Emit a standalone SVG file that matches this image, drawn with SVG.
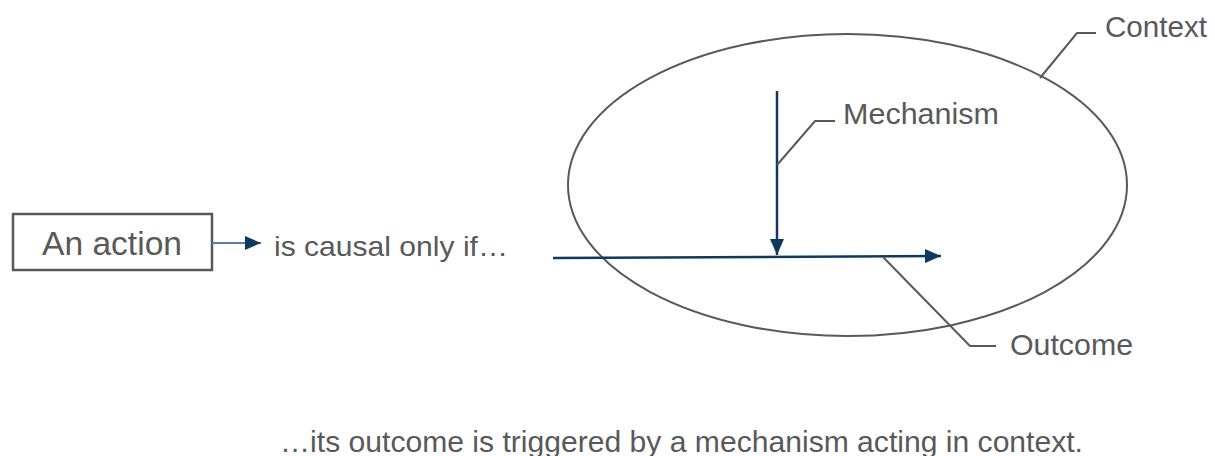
<svg xmlns="http://www.w3.org/2000/svg" width="1215" height="456" viewBox="0 0 1215 456">
<style>
text{font-family:"Liberation Sans",Arial,sans-serif;fill:#595959}
.lbl{font-size:30px}
.call{fill:none;stroke:#595959;stroke-width:2}
.arr{fill:none;stroke:#0f3a5f;stroke-width:2.5}
</style>
<defs>
<marker id="ahb" viewBox="0 0 10 10" refX="10" refY="5" markerWidth="16" markerHeight="14" markerUnits="userSpaceOnUse" orient="auto" preserveAspectRatio="none">
<path d="M0,0 L10,5 L0,10 z" fill="#0f3a5f"/>
</marker>
</defs>
<rect width="1215" height="456" fill="#fff"/>
<g id="context">
<ellipse cx="847.5" cy="185" rx="279.5" ry="151" fill="none" stroke="#595959" stroke-width="2"/>
<text class="lbl" x="1105" y="37" textLength="102" lengthAdjust="spacingAndGlyphs">Context</text>
</g>
<g id="action">
<rect x="13" y="214" width="199" height="56" fill="#fff" stroke="#595959" stroke-width="2.5"/>
<text x="42" y="255" font-size="33" textLength="140" lengthAdjust="spacingAndGlyphs">An action</text>
</g>
<g id="causal">
<text x="274" y="256" font-size="28" textLength="234" lengthAdjust="spacingAndGlyphs">is causal only if…</text>
</g>
<g id="mechanism">
<text class="lbl" x="843" y="124" textLength="156" lengthAdjust="spacingAndGlyphs">Mechanism</text>
</g>
<g id="outcome">
<text class="lbl" x="1010" y="355" textLength="123" lengthAdjust="spacingAndGlyphs">Outcome</text>
</g>
<g id="footer">
<text x="280" y="452" font-size="30" textLength="803" lengthAdjust="spacingAndGlyphs">…its outcome is triggered by a mechanism acting in context.</text>
</g>
<g id="connectors">
<line x1="212" y1="243" x2="261" y2="243" stroke="#5f7f99" stroke-width="2" marker-end="url(#ahb)"/>
<line class="arr" x1="553" y1="258" x2="941" y2="256" marker-end="url(#ahb)"/>
<line class="arr" x1="777" y1="91" x2="777" y2="255" marker-end="url(#ahb)"/>
<polyline class="call" points="777,165 815,121 835,121"/>
<polyline class="call" points="1040,78 1077,33 1096,33"/>
<polyline class="call" points="883,257 970,346 996,346"/>
</g>
</svg>
